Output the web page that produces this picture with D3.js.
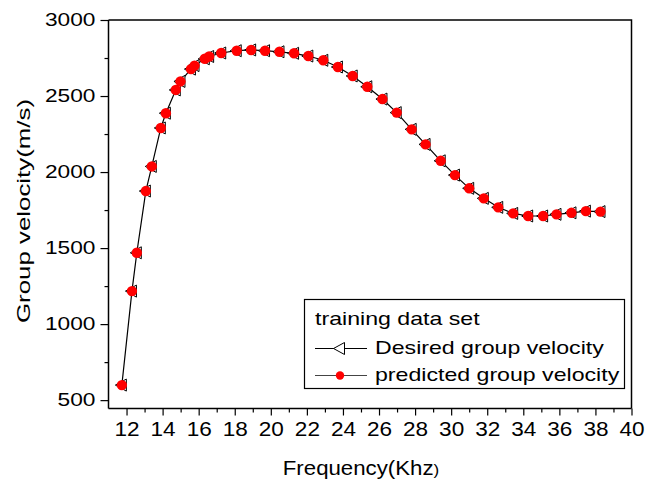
<!DOCTYPE html>
<html>
<head>
<meta charset="utf-8">
<script src="https://cdn.jsdelivr.net/npm/d3@7"></script>
<style>
  html, body { margin: 0; padding: 0; background: #fff; }
  svg { display: block; font-family: "Liberation Sans", Arial, sans-serif; }
</style>
</head>
<body>
<svg id="chart" width="645" height="482"></svg>
<script>
// ---- data ----
const frequency = [11.74, 12.30, 12.57, 13.07, 13.40, 13.90, 14.18, 14.73, 14.99, 15.57,
  15.77, 16.34, 16.58, 17.25, 18.11, 18.91, 19.68, 20.48, 21.29, 22.08,
  22.91, 23.72, 24.54, 25.35, 26.19, 26.98, 27.81, 28.58, 29.42, 30.21,
  31.00, 31.81, 32.61, 33.44, 34.27, 35.10, 35.84, 36.67, 37.47, 38.28];
const desired = [599, 1217, 1469, 1875, 2037, 2290, 2387, 2540, 2596, 2677,
  2700, 2745, 2760, 2783, 2798, 2803, 2798, 2791, 2781, 2763,
  2735, 2691, 2632, 2561, 2480, 2391, 2281, 2182, 2074, 1980,
  1893, 1827, 1768, 1728, 1711, 1711, 1722, 1732, 1743, 1740];
const predicted = [599, 1217, 1469, 1875, 2037, 2290, 2387, 2540, 2596, 2677,
  2700, 2745, 2760, 2783, 2798, 2803, 2798, 2791, 2781, 2763,
  2735, 2691, 2632, 2561, 2480, 2391, 2281, 2182, 2074, 1980,
  1893, 1827, 1768, 1728, 1711, 1711, 1722, 1732, 1743, 1740];
const xTicks = [12, 14, 16, 18, 20, 22, 24, 26, 28, 30, 32, 34, 36, 38, 40];
const xMinorTicks = [13, 15, 17, 19, 21, 23, 25, 27, 29, 31, 33, 35, 37, 39];
const yTicks = [500, 1000, 1500, 2000, 2500, 3000];
const yMinorTicks = [750, 1250, 1750, 2250, 2750];
const seriesNames = ["Desired group velocity", "predicted group velocity"];
const legendTitle = "training data set";
const xTitle = "Frequency(Khz";
const yTitle = "Group velocity(m/s)";

// ---- layout ----
const L = 108.5, R = 631.5, T = 20, B = 408.5;
const svg = d3.select("#chart");
const x = d3.scaleLinear().domain([11, 40]).range([L, R]);
const y = d3.scaleLinear().domain([445, 3000]).range([B, T]);

function stretch(sel, k) {
  sel.each(function () {
    const w = this.getComputedTextLength();
    this.setAttribute("textLength", (w * k).toFixed(1));
    this.setAttribute("lengthAdjust", "spacingAndGlyphs");
  });
}

// frame (top + right)
svg.append("path")
  .attr("d", `M${L},${T}H${R}V${B}`)
  .attr("fill", "none").attr("stroke", "#000").attr("stroke-width", 1.5);

// x axis
const gx = svg.append("g").attr("transform", `translate(0,${B})`);
gx.call(d3.axisBottom(x).tickValues(xTicks).tickFormat(d3.format("d"))
  .tickSize(7).tickSizeOuter(0).tickPadding(6));
gx.append("g").call(d3.axisBottom(x).tickValues(xMinorTicks).tickSize(4).tickFormat(""))
  .select(".domain").remove();
gx.selectAll(".domain").attr("stroke-width", 1.5).attr("d", `M${L},0H${R}`);
gx.selectAll(".tick line").attr("stroke-width", 1.2);
gx.selectAll(".tick text").attr("font-size", 20).attr("fill", "#000").attr("dy", "0.72em")
  .call(stretch, 1.13);

// y axis
const gy = svg.append("g").attr("transform", `translate(${L},0)`);
gy.call(d3.axisLeft(y).tickValues(yTicks).tickFormat(d3.format("d"))
  .tickSize(8).tickSizeOuter(0).tickPadding(5));
gy.append("g").call(d3.axisLeft(y).tickValues(yMinorTicks).tickSize(4).tickFormat(""))
  .select(".domain").remove();
gy.selectAll(".domain").attr("stroke-width", 1.5).attr("d", `M0,${T}V${B}`);
gy.selectAll(".tick line").attr("stroke-width", 1.2);
gy.selectAll(".tick text").attr("font-size", 18).attr("fill", "#000")
  .call(stretch, 1.26);

// axis titles
const xt = svg.append("text").attr("x", 361).attr("y", 475).attr("text-anchor", "middle")
  .attr("font-size", 19.5).attr("fill", "#000");
xt.append("tspan").text(xTitle);
xt.append("tspan").attr("font-size", 15).text(")");
stretch(xt, 1.14);

const yt = svg.append("text").attr("transform", `translate(30,211) rotate(-90)`)
  .attr("text-anchor", "middle").attr("font-size", 19).attr("fill", "#000").text(yTitle);
stretch(yt, 1.36);

// data
const pts = frequency.map((f, i) => ({ f, d: desired[i], p: predicted[i] }));
const line = d3.line().x(d => x(d.f)).y(d => y(d.d));
svg.append("path").datum(pts).attr("d", line)
  .attr("fill", "none").attr("stroke", "#000").attr("stroke-width", 1.2);

const tri = "M-6.5,0L4.5,-6L4.5,6Z";
svg.append("g").selectAll("path").data(pts).join("path")
  .attr("transform", d => `translate(${x(d.f)},${y(d.d)})`)
  .attr("d", tri).attr("fill", "#fff").attr("stroke", "#000").attr("stroke-width", 1);
svg.append("g").selectAll("circle").data(pts).join("circle")
  .attr("cx", d => x(d.f)).attr("cy", d => y(d.p)).attr("r", 5.2)
  .attr("fill", "#ff0000");

// legend
const lg = svg.append("g");
lg.append("rect").attr("x", 304.5).attr("y", 299.5).attr("width", 320).attr("height", 89)
  .attr("fill", "#fff").attr("stroke", "#000").attr("stroke-width", 1.2);
const lt = lg.append("text").attr("x", 315).attr("y", 325).attr("font-size", 18.5).text(legendTitle);
stretch(lt, 1.25);
const rows = [
  { name: seriesNames[0], yy: 348.5, ty: 354, type: "tri", col: "#000" },
  { name: seriesNames[1], yy: 375.5, ty: 381, type: "dot", col: "#444" }
];
rows.forEach(r => {
  lg.append("line").attr("x1", 315).attr("x2", 367).attr("y1", r.yy).attr("y2", r.yy)
    .attr("stroke", r.col).attr("stroke-width", 1.2);
  if (r.type === "tri") {
    lg.append("path").attr("transform", `translate(340,${r.yy})`).attr("d", tri)
      .attr("fill", "#fff").attr("stroke", "#000").attr("stroke-width", 1);
  } else {
    lg.append("circle").attr("cx", 340).attr("cy", r.yy).attr("r", 4.2).attr("fill", "#ff0000");
  }
  const t = lg.append("text").attr("x", 375).attr("y", r.ty).attr("font-size", 18.5).text(r.name);
  stretch(t, 1.25);
});
</script>
</body>
</html>
